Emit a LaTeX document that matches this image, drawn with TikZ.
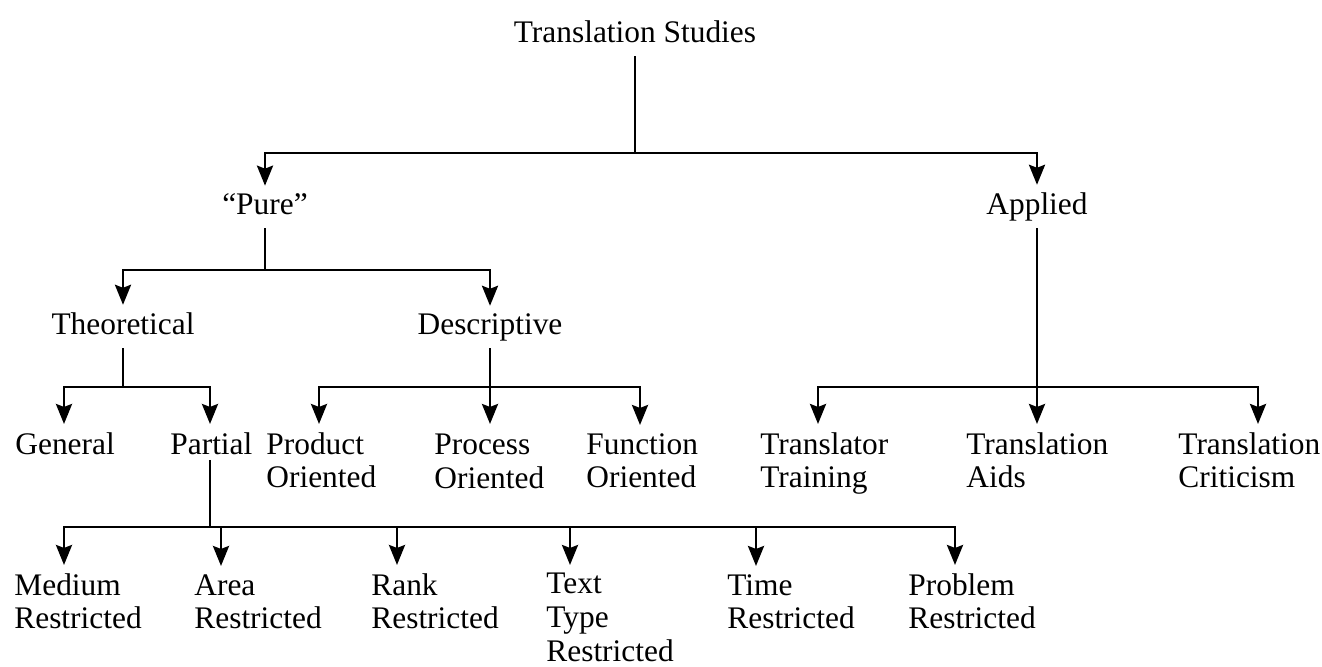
\documentclass[tikz,border=0pt]{standalone}
\usepackage{fontspec}
\setmainfont{Liberation Serif}
\usetikzlibrary{arrows.meta}

\begin{document}
\begin{tikzpicture}[
        x = 0.5pt, y = -0.5pt, % one unit per pixel, y runs down
        > = {Stealth[length=10pt, width=8pt, inset=1.5pt]}, % arrow head style
        line width = 1.4pt, % line style
        font = \fontsize{15.7}{16.8}\selectfont
    ]

    \tikzstyle{branch}=[
        inner sep = 2pt,
        text depth = 4pt,
        anchor = base
    ]
    \tikzstyle{leaf}=[
        inner sep = 2pt,
        align = left,
        anchor = north west
    ]
    \tikzstyle{feed}=[
        ->,
        shorten > = 1.5pt % don't touch arrow head to node
    ]

    \useasboundingbox (0,0) rectangle (1322,667);

    % upper levels
    \node[branch] (studies) at (635,43) {Translation Studies};
    \node[branch] (pure) at (265,215) {“Pure”};
    \node[branch] (applied) at (1037,215) {Applied};
    \node[branch] (theo) at (123,335) {Theoretical};
    \node[branch] (desc) at (490,335) {Descriptive};

    % third level
    \node[leaf] (general) at (10,427) {General};
    \node[leaf] (partial) at (165,427) {Partial};
    \node[leaf] (product) at (261,427) {Product\\Oriented};
    \node[leaf] (process) at (429,429) {Process\\Oriented};
    \node[leaf] (function) at (581,428) {Function\\Oriented};
    \node[leaf] (training) at (755,427) {Translator\\Training};
    \node[leaf] (aids) at (961,427) {Translation\\Aids};
    \node[leaf] (criticism) at (1173,427) {Translation\\Criticism};

    % fourth level
    \node[leaf] (medium) at (9,568) {Medium\\Restricted};
    \node[leaf] (area) at (189,569) {Area\\Restricted};
    \node[leaf] (rank) at (366,568) {Rank\\Restricted};
    \node[leaf] (texttype) at (541,568) {Text\\Type\\Restricted};
    \node[leaf] (time) at (722,569) {Time\\Restricted};
    \node[leaf] (problem) at (903,568) {Problem\\Restricted};

    % junctions on the bars
    \coordinate (j0) at (studies.south |- 0,153);
    \coordinate (j1) at (pure.south |- 0,270);
    \coordinate (j2) at (theo.south |- 0,387);
    \coordinate (j3) at (desc.south |- 0,387);
    \coordinate (j4) at (210,527);
    \coordinate (j5) at (applied.south |- 0,387);

    \draw (studies) -- (j0);
    \draw[feed] (j0) -| (pure);
    \draw[feed] (j0) -| (applied);

    \draw (pure) -- (j1);
    \draw[feed] (j1) -| (theo);
    \draw[feed] (j1) -| (desc);

    \draw (theo) -- (j2);
    \draw[feed] (j2) -| (general.north -| 64,0);
    \draw[feed] (j2) -| (partial.north -| 210,0);

    \draw[feed] (desc) -- (desc |- product.north);
    \draw[feed] (j3) -| (product.north -| 319,0);
    \draw[feed] (j3) -| (function.north -| 640,0);

    \draw[feed] (applied) -- (applied |- aids.north);
    \draw[feed] (j5) -| (training.north -| 818,0);
    \draw[feed] (j5) -| (criticism.north -| 1258,0);

    \draw (j4 |- partial.south) -- (j4);
    \foreach \leaf/\x in {medium/64, area/221, rank/397, texttype/570, time/756, problem/955}
        \draw[feed] (j4) -| (\leaf.north -| \x,0);

\end{tikzpicture}
\end{document}
